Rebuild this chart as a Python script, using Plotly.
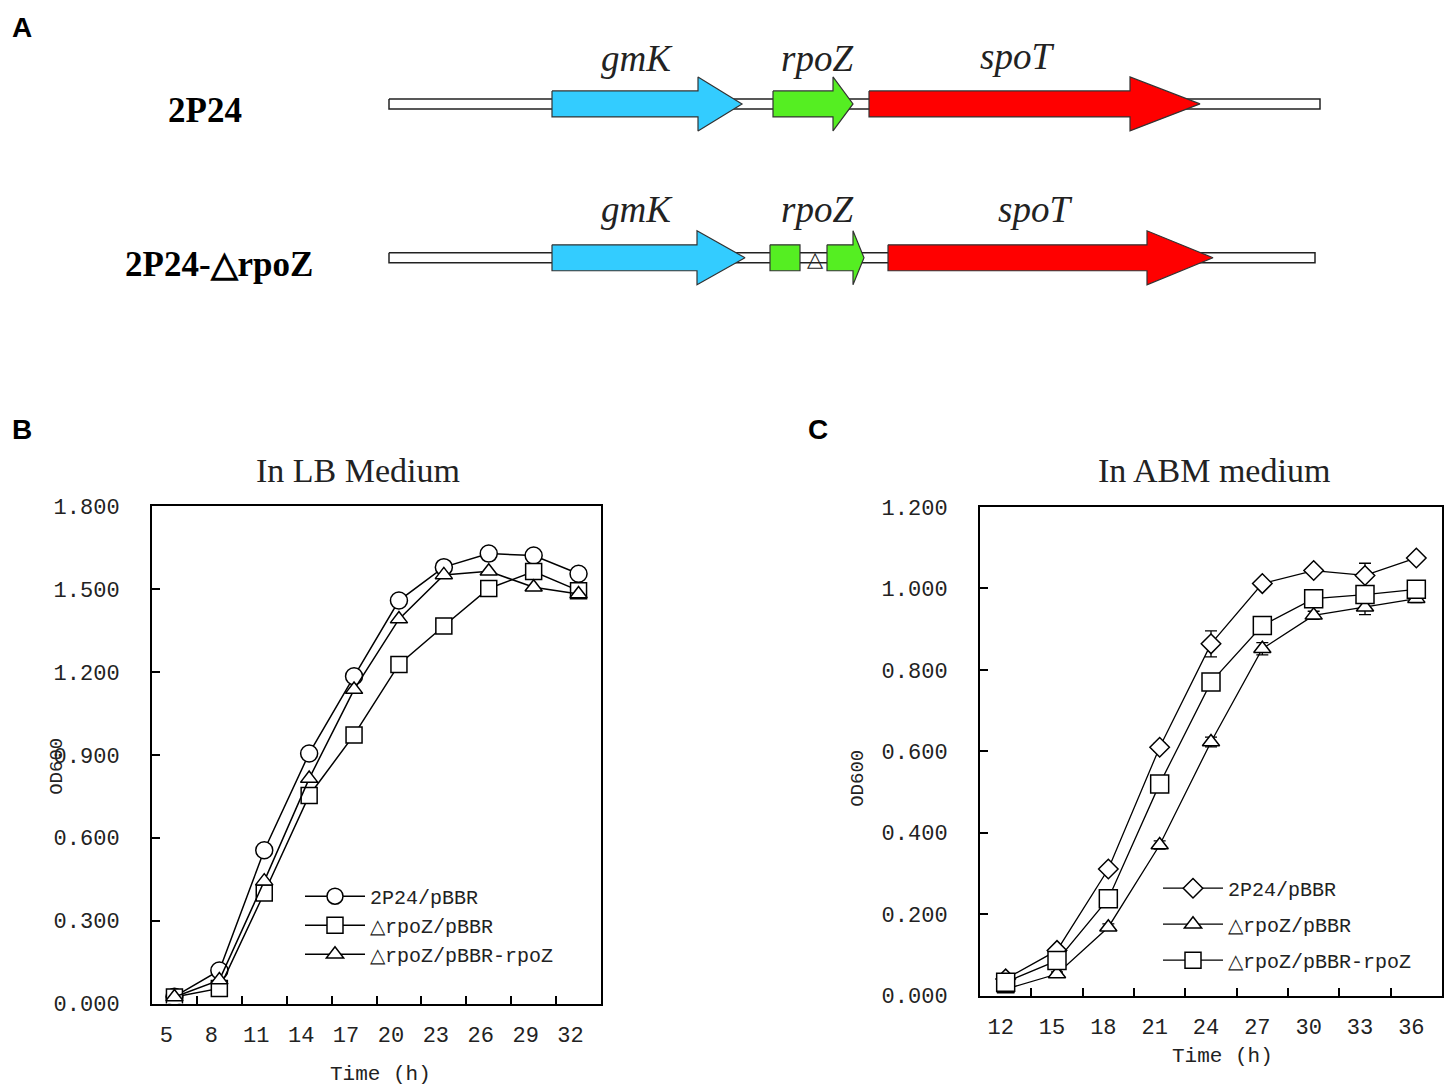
import plotly.graph_objects as go

W, H = 1453, 1092

# ---- panel A: gene map (diagram units = pixels of the panel) ----
row_names = ['2P24', '2P24-△rpoZ']
row_center = [104.5, 258.5]
row_label_x = [205, 219]
backbone_start = [389, 389]
backbone_end = [1320, 1315]

gene_row = [0, 0, 0, 1, 1, 1, 1]
gene_start = [552, 773, 869, 552, 770, 827, 888]
gene_head = [698, 833, 1130, 697, 800, 853, 1147]
gene_end = [742, 853, 1200, 745, 800, 864, 1213]
gene_color = ['#33CCFF', '#55EE22', '#FF0000', '#33CCFF', '#55EE22', '#55EE22', '#FF0000']

name_text = ['gmK', 'rpoZ', 'spoT', 'gmK', 'rpoZ', 'spoT']
name_x = [637, 817, 1017, 637, 817, 1035]
name_y = [59, 59, 57, 210, 210, 210]

# ---- panel B: In LB Medium ----
lb_hours = [5, 8, 11, 14, 17, 20, 23, 26, 29, 32]
lb_wt = [0.025, 0.120, 0.555, 0.905, 1.184, 1.458, 1.579, 1.628, 1.621, 1.555]
lb_mut = [0.024, 0.055, 0.400, 0.753, 0.972, 1.227, 1.366, 1.502, 1.563, 1.494]
lb_comp = [0.024, 0.085, 0.443, 0.814, 1.136, 1.391, 1.551, 1.564, 1.506, 1.482]

# ---- panel C: In ABM medium ----
abm_hours = [12, 15, 18, 21, 24, 27, 30, 33, 36]
abm_wt = [0.041, 0.111, 0.311, 0.610, 0.864, 1.012, 1.044, 1.032, 1.075]
abm_wt_err = [0.008, 0.006, 0.008, 0.010, 0.032, 0.008, 0.008, 0.030, 0.008]
abm_mut = [0.016, 0.053, 0.168, 0.370, 0.623, 0.852, 0.934, 0.954, 0.975]
abm_mut_err = [0.008, 0.005, 0.008, 0.010, 0.012, 0.015, 0.010, 0.018, 0.010]
abm_comp = [0.033, 0.086, 0.238, 0.520, 0.770, 0.909, 0.975, 0.985, 0.998]
abm_comp_err = [0.006, 0.006, 0.008, 0.010, 0.010, 0.010, 0.010, 0.015, 0.010]


# page offset seen in the screenshot: x shifted by the body margin,
# y slightly squeezed and shifted
def fx(x):
    return (x - 8) / W


def fy(y):
    return 1 - ((y - 18.5) / 0.978) / H


MONO = 'Liberation Mono'
SERIF = 'Liberation Serif'
INK = '#222222'

fig = go.Figure()

# gene map
for i in range(len(row_names)):
    c = row_center[i]
    x0, x1 = backbone_start[i], backbone_end[i]
    fig.add_trace(go.Scatter(
        x=[x0, x1, x1, x0, x0], y=[c - 5, c - 5, c + 5, c + 5, c - 5],
        mode='lines', fill='toself', fillcolor='white',
        line=dict(color=INK, width=1.5),
        xaxis='x3', yaxis='y3', showlegend=False, hoverinfo='skip'))

for i in range(len(gene_start)):
    c = row_center[gene_row[i]]
    s, h, e = gene_start[i], gene_head[i], gene_end[i]
    if h < e:
        xs = [s, h, h, e, h, h, s, s]
        ys = [c - 13, c - 13, c - 27, c, c + 27, c + 13, c + 13, c - 13]
    else:
        xs = [s, e, e, s, s]
        ys = [c - 13, c - 13, c + 13, c + 13, c - 13]
    fig.add_trace(go.Scatter(
        x=xs, y=ys, mode='lines', fill='toself', fillcolor=gene_color[i],
        line=dict(color='#333333', width=1.2),
        xaxis='x3', yaxis='y3', showlegend=False, hoverinfo='skip'))


def note(x, y, text, font, **kw):
    d = dict(x=fx(x), y=fy(y), xref='paper', yref='paper', text=text, showarrow=False,
             xanchor='center', yanchor='middle', font=font)
    d.update(kw)
    return d


annotations = []
for i in range(len(name_text)):
    annotations.append(dict(
        x=name_x[i], y=name_y[i], xref='x3', yref='y3', text='<i>%s</i>' % name_text[i],
        showarrow=False, xanchor='center', yanchor='middle',
        font=dict(family=SERIF, size=37, color=INK)))
for i in range(len(row_names)):
    annotations.append(note(row_label_x[i], row_center[i] + 7, '<b>%s</b>' % row_names[i],
                            dict(family=SERIF, size=35, color='black')))
annotations.append(dict(x=815, y=260, xref='x3', yref='y3', text='△', showarrow=False,
                        xanchor='center', yanchor='middle',
                        font=dict(family='DejaVu Sans', size=21, color=INK)))

# growth curves
marker_line = dict(color='black', width=1.5)
lb_series = [
    ('2P24/pBBR', lb_wt, 'circle', 17),
    ('△rpoZ/pBBR', lb_mut, 'square', 16),
    ('△rpoZ/pBBR-rpoZ', lb_comp, 'triangle-up', 15),
]
for name, vals, sym, size in lb_series:
    fig.add_trace(go.Scatter(
        x=[str(h) for h in lb_hours], y=vals, name=name, mode='lines+markers',
        line=dict(color='black', width=1.5),
        marker=dict(symbol=sym, size=size, color='white', line=marker_line),
        xaxis='x', yaxis='y', legend='legend', legendgroup=name))

abm_series = [
    ('2P24/pBBR', abm_wt, abm_wt_err, 'diamond', 15),
    ('△rpoZ/pBBR', abm_mut, abm_mut_err, 'triangle-up', 15),
    ('△rpoZ/pBBR-rpoZ', abm_comp, abm_comp_err, 'square', 18),
]
for name, vals, err, sym, size in abm_series:
    fig.add_trace(go.Scatter(
        x=[str(h) for h in abm_hours], y=vals, name=name, mode='lines+markers',
        line=dict(color='black', width=1.3),
        error_y=dict(type='data', array=err, color='black', thickness=1.3, width=6),
        marker=dict(symbol=sym, size=size, color='white', line=marker_line),
        xaxis='x2', yaxis='y2', legend='legend2', legendgroup='c' + name))

tick_font = dict(family=MONO, size=22, color=INK)
common_x = dict(type='category', tickson='boundaries', ticks='inside', ticklen=8,
                tickwidth=1.5, tickcolor='black', showline=True, linewidth=2,
                linecolor='black', mirror=True, showgrid=False, zeroline=False,
                tickfont=tick_font, ticklabelstandoff=10)
common_y = dict(ticks='inside', ticklen=8, tickwidth=1.5, tickcolor='black',
                showline=True, linewidth=2, linecolor='black', mirror=True,
                showgrid=False, zeroline=False, tickformat='.3f',
                tickfont=tick_font, ticklabelstandoff=26)

for letter, x, y in [('A', 22, 28), ('B', 22, 430), ('C', 818, 430)]:
    annotations.append(note(x, y, '<b>%s</b>' % letter,
                            dict(family='Liberation Sans', size=28, color='black')))

for text, x, y in [('In LB Medium', 358, 471), ('In ABM medium', 1214, 471)]:
    annotations.append(note(x, y, text, dict(family=SERIF, size=34, color=INK)))

for x, y in [(380, 1076), (1222, 1058)]:
    annotations.append(note(x, y, 'Time (h)', dict(family=MONO, size=21, color=INK)))

for x, y in [(57, 767), (858, 780)]:
    annotations.append(note(x, y, 'OD600', dict(family=MONO, size=19, color=INK), textangle=-90))

fig.update_layout(
    width=W, height=H,
    margin=dict(l=0, r=0, t=0, b=0),
    paper_bgcolor='white', plot_bgcolor='white',
    xaxis=dict(domain=[fx(152), fx(601)], anchor='y', range=[-0.5, len(lb_hours) - 0.5],
               ticklabelshift=-8, **common_x),
    yaxis=dict(domain=[fy(1005), fy(507)], anchor='x', range=[0, 1.8], dtick=0.3, **common_y),
    xaxis2=dict(domain=[fx(980), fx(1442)], anchor='y2', range=[-0.5, len(abm_hours) - 0.5],
                ticklabelshift=-5, **common_x),
    yaxis2=dict(domain=[fy(997), fy(508)], anchor='x2', range=[0, 1.2], dtick=0.2, **common_y),
    xaxis3=dict(domain=[0, 1], anchor='y3', range=[8, 8 + W], visible=False),
    yaxis3=dict(domain=[fy(300), fy(20)], anchor='x3', range=[300, 20], visible=False),
    legend=dict(x=fx(300), y=fy(878), xanchor='left', yanchor='top',
                font=dict(family=MONO, size=20, color=INK),
                bgcolor='rgba(0,0,0,0)', itemwidth=60, tracegroupgap=0),
    legend2=dict(x=fx(1158), y=fy(870), xanchor='left', yanchor='top',
                 font=dict(family=MONO, size=20, color=INK),
                 bgcolor='rgba(0,0,0,0)', itemwidth=60, tracegroupgap=7),
    annotations=annotations,
)

fig.write_html('out.html')
